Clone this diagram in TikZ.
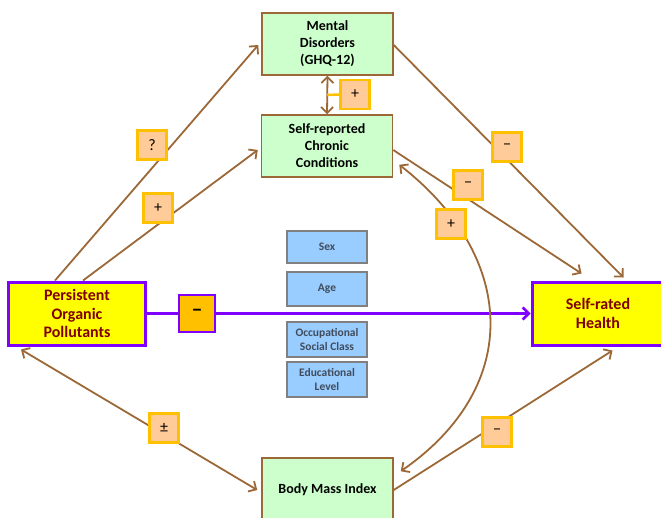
\documentclass[tikz,border=0pt]{standalone}
\usepackage{fontspec}
\setmainfont{Carlito}
\usetikzlibrary{arrows.meta,calc}
\definecolor{brn}{RGB}{156,104,56}
\definecolor{grn}{RGB}{204,255,204}
\definecolor{blu}{RGB}{153,204,255}
\definecolor{gry}{RGB}{128,128,128}
\definecolor{btxt}{RGB}{64,76,92}
\definecolor{ylw}{RGB}{255,255,0}
\definecolor{prp}{RGB}{127,0,255}
\definecolor{dred}{RGB}{128,0,0}
\definecolor{org}{RGB}{255,192,0}
\definecolor{peach}{RGB}{255,204,153}
\begin{document}
\begin{tikzpicture}[x=1pt,y=-1pt,
  gbox/.style={draw=brn, line width=1.5pt, fill=grn, minimum width=131pt, minimum height=62pt, align=center, inner sep=0pt, font=\bfseries\fontsize{14}{17}\selectfont},
  bbox/.style={draw=gry, line width=1.5pt, fill=blu, minimum width=80pt, align=center, inner sep=0pt, text=btxt, font=\bfseries\fontsize{11.5}{14}\selectfont},
  ybox/.style={draw=prp, line width=3pt, fill=ylw, minimum height=63pt, align=center, inner sep=0pt, text=dred, font=\bfseries\fontsize{16}{18.5}\selectfont},
  lab/.style={draw=org, line width=2.5pt, fill=peach, minimum width=29pt, minimum height=29pt, inner sep=0pt, font=\fontsize{16}{18}\selectfont},
  arr/.style={draw=brn, line width=1.8pt, -{Straight Barb[length=6pt,width=12pt]}},
  darr/.style={draw=brn, line width=1.8pt, {Straight Barb[length=6pt,width=12pt]}-{Straight Barb[length=6pt,width=12pt]}}
]
\useasboundingbox (0,0) rectangle (661,517);

% main nodes
\node[gbox] (md) at (327.5,44) {Mental\\Disorders\\(GHQ-12)};
\node[gbox] (cc) at (327,146) {Self-reported\\Chronic\\Conditions};
\node[gbox, minimum height=64pt] (bmi) at (327.5,490) {Body Mass Index};
\node[ybox, minimum width=137pt] (pop) at (77,313.5) {Persistent\\Organic\\Pollutants};
\node[ybox, minimum width=132pt] (srh) at (598,313.5) {Self-rated\\Health};

% covariates
\node[bbox, minimum height=32pt] (sex) at (327,247) {Sex};
\node[bbox, minimum height=34pt] (age) at (327,289) {Age};
\node[bbox, minimum height=35pt] (occ) at (327,339.5) {Occupational\\Social Class};
\node[bbox, minimum height=35pt] (edu) at (327,379.5) {Educational\\Level};

% main purple arrow
\draw[prp, line width=2.5pt, -{Straight Barb[length=6pt,width=12pt]}] (pop.east) -- (srh.west);
\node[draw=prp, line width=2pt, fill=org, minimum width=36pt, minimum height=37pt, inner sep=0pt, font=\bfseries\fontsize{20}{22}\selectfont] (pm) at (197,313) {−};

% brown arrows
\draw[darr] (md.south) -- (cc.north);
\coordinate (mid) at ($(md.south)!0.5!(cc.north)$);
\node[lab] (lmc) at (355,94.5) {+};
\draw[org, line width=2.5pt] (mid) -- (lmc.west);

\draw[arr] ($(pop.north west)+(48,0)$) -- ($(md.west)+(-3,1)$);
\draw[arr] ($(pop.north west)+(76,0)$) -- ($(cc.west)+(-3,4)$);
\draw[darr] ($(pop.south west)+(14,3)$) -- ($(bmi.west)+(-4,0)$);
\draw[arr] ($(md.east)+(0,1)$) -- ($(srh.north west)+(93,-3)$);
\draw[arr] ($(cc.east)+(0,4)$) -- ($(srh.north west)+(51,-7)$);
\draw[arr] ($(bmi.east)+(0,0)$) -- ($(srh.south west)+(82,4)$);
\draw[darr] ($(bmi.north east)+(7,14)$) .. controls (525,385) and (515,255) .. ($(cc.south east)+(6,-13)$);

% labels
\node[lab] (l1) at (152,145) {?};
\node[lab] (l2) at (158,208) {+};
\node[lab] (l3) at (164,428) {±};
\node[lab] (l4) at (507,147) {−};
\node[lab] (l5) at (468,185) {−};
\node[lab] (l6) at (451,224) {+};
\node[lab] (l7) at (497,432) {−};
\end{tikzpicture}
\end{document}
